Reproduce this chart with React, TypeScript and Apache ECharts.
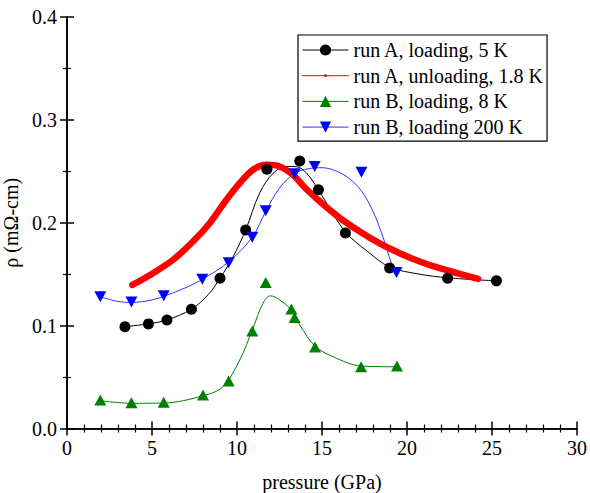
import React, { useEffect, useRef } from "react";
import * as echarts from "echarts";

// Tick labels / axis ranges
const xTicks = [0, 5, 10, 15, 20, 25, 30];
const yTicks = [0.0, 0.1, 0.2, 0.3, 0.4];

// Series names
const seriesNames = [
  "run A, loading, 5 K",
  "run A, unloading, 1.8 K",
  "run B, loading, 8 K",
  "run B, loading 200 K",
];

// run A, loading, 5 K (markers)
const runALoadP = [3.41, 4.79, 5.88, 7.32, 9.0, 10.51, 11.76, 13.69, 14.79, 16.38, 18.98, 22.39, 25.26];
const runALoadR = [0.099, 0.1017, 0.1055, 0.116, 0.146, 0.193, 0.252, 0.26, 0.232, 0.19, 0.156, 0.146, 0.1435];

// run A, loading fit curve
const runAFitP = [3.41, 4.79, 5.88, 7.32, 8.3, 9.0, 9.8, 10.51, 11.33, 12.12, 12.9, 13.5, 14.1, 14.79, 15.6, 16.43, 17.61, 18.98, 20.75, 22.39, 25.26];
const runAFitR = [0.099, 0.1017, 0.1055, 0.116, 0.13, 0.146, 0.168, 0.193, 0.2288, 0.248, 0.2547, 0.2545, 0.248, 0.232, 0.21, 0.19, 0.173, 0.157, 0.15, 0.1465, 0.1435];

// run A, unloading, 1.8 K (dense data)
const runAUnloadP = [3.85, 5.06, 6.24, 7.41, 8.39, 9.38, 10.16, 10.94, 11.73, 12.51, 13.29, 14.0, 14.88, 16.06, 17.22, 18.39, 19.57, 20.75, 21.92, 23.1, 24.18];
const runAUnloadR = [0.1396, 0.151, 0.164, 0.1817, 0.1996, 0.2223, 0.2385, 0.2515, 0.2563, 0.2547, 0.2466, 0.234, 0.2206, 0.2045, 0.1915, 0.18, 0.1704, 0.1623, 0.1558, 0.1503, 0.1454];

// run B, loading, 8 K (markers)
const runB8P = [1.96, 3.79, 5.69, 8.0, 9.51, 10.9, 11.69, 13.2, 13.39, 14.59, 17.3, 19.41];
const runB8R = [0.0277, 0.0251, 0.0255, 0.0326, 0.0462, 0.0948, 0.1418, 0.1162, 0.1078, 0.0793, 0.0601, 0.0608];

// run B, 8 K fit curve
const runB8FitP = [1.96, 3.79, 5.69, 8.0, 9.18, 10.16, 10.94, 11.53, 11.96, 12.51, 13.2, 13.69, 14.59, 15.65, 17.3, 19.41];
const runB8FitR = [0.027, 0.0245, 0.0248, 0.0318, 0.0407, 0.0666, 0.0975, 0.1218, 0.129, 0.125, 0.115, 0.1007, 0.08, 0.0698, 0.0607, 0.06];

// run B, loading 200 K (markers)
const runB200P = [1.96, 3.79, 5.69, 7.96, 9.51, 10.9, 11.69, 13.39, 14.57, 17.32, 19.38];
const runB200R = [0.128, 0.123, 0.129, 0.145, 0.161, 0.186, 0.2116, 0.2476, 0.2547, 0.249, 0.1516];

// run B, 200 K fit curve
const runB200FitP = [1.96, 3.0, 3.8, 5.0, 5.69, 7.0, 7.96, 9.51, 10.9, 11.69, 12.5, 13.39, 14.2, 15.0, 15.8, 16.6, 17.32, 18.0, 18.59, 19.08, 19.38];
const runB200FitR = [0.128, 0.1235, 0.1225, 0.125, 0.1285, 0.137, 0.145, 0.162, 0.186, 0.211, 0.2337, 0.248, 0.2525, 0.2535, 0.2505, 0.243, 0.231, 0.211, 0.186, 0.161, 0.1516];

const pairs = (xs: number[], ys: number[]) => xs.map((x, i) => [x, ys[i]]);

const FONT = "Liberation Serif";
const smallDot = "path://M0,0 M12,12 M4.4,6 A1.6,1.6 0 1,0 7.6,6 A1.6,1.6 0 1,0 4.4,6 Z";

export default function App() {
  const ref = useRef<HTMLDivElement>(null);
  useEffect(() => {
    if (!ref.current) return;
    const chart = echarts.init(ref.current, null, { renderer: "svg" });
    const axisCommon = {
      type: "value" as const,
      axisLine: { show: true, lineStyle: { color: "#000", width: 1.6 } },
      axisTick: { show: true, inside: true, length: 7, lineStyle: { color: "#000", width: 1.5 } },
      minorTick: { show: true, length: 4, lineStyle: { color: "#000", width: 1.2 } },
      splitLine: { show: false },
    };
    const option: any = {
      animation: false,
      backgroundColor: "#fff",
      textStyle: { fontFamily: FONT },
      grid: { left: 67, right: 13, top: 17, bottom: 64.5, containLabel: false, outerBoundsMode: "none" },
      xAxis: [
        {
          ...axisCommon,
          position: "bottom",
          min: xTicks[0],
          max: xTicks[xTicks.length - 1],
          interval: 5,
          minorTick: { ...axisCommon.minorTick, splitNumber: 5 },
          axisLabel: { fontFamily: FONT, fontSize: 20, color: "#000", margin: 9 },
          name: "pressure (GPa)",
          nameLocation: "middle",
          nameGap: 43,
          nameTextStyle: { fontFamily: FONT, fontSize: 20, color: "#000" },
        },
        {
          ...axisCommon,
          position: "top",
          min: xTicks[0],
          max: xTicks[xTicks.length - 1],
          interval: 5,
          minorTick: { ...axisCommon.minorTick, splitNumber: 5 },
          axisLabel: { show: false },
        },
      ],
      yAxis: [
        {
          ...axisCommon,
          position: "left",
          min: yTicks[0],
          max: yTicks[yTicks.length - 1],
          interval: 0.1,
          minorTick: { ...axisCommon.minorTick, splitNumber: 2 },
          axisLabel: {
            fontFamily: FONT,
            fontSize: 20,
            color: "#000",
            margin: 10,
            formatter: (v: number) => v.toFixed(1),
          },
          name: "ρ (mΩ-cm)",
          nameLocation: "middle",
          nameGap: 32,
          nameRotate: 90,
          nameTextStyle: { fontFamily: FONT, fontSize: 20, color: "#000" },
        },
        {
          ...axisCommon,
          position: "right",
          min: yTicks[0],
          max: yTicks[yTicks.length - 1],
          interval: 0.1,
          minorTick: { ...axisCommon.minorTick, splitNumber: 2 },
          axisLabel: { show: false },
        },
      ],
      legend: {
        orient: "vertical",
        left: 298,
        top: 35,
        padding: [5, 3, 4, 4],
        itemWidth: 46,
        itemHeight: 14,
        itemGap: 5.7,
        borderColor: "#000",
        borderWidth: 1.2,
        backgroundColor: "#fff",
        textStyle: { fontFamily: FONT, fontSize: 20, color: "#000" },
        data: [
          { name: seriesNames[0], lineStyle: { color: "#000", width: 1, opacity: 1 } },
          { name: seriesNames[1], lineStyle: { color: "#ff0000", width: 1, opacity: 1 } },
          { name: seriesNames[2], lineStyle: { color: "#008000", width: 1, opacity: 1 } },
          { name: seriesNames[3], lineStyle: { color: "#3333ff", width: 1, opacity: 1 } },
        ],
      },
      series: [
        {
          type: "line",
          name: "fitA",
          data: pairs(runAFitP, runAFitR),
          smooth: 0.35,
          symbol: "none",
          lineStyle: { color: "#000", width: 1 },
          z: 2,
        },
        {
          type: "line",
          name: seriesNames[1],
          data: pairs(runAUnloadP, runAUnloadR),
          smooth: 0.35,
          showSymbol: false,
          symbol: smallDot,
          itemStyle: { color: "#ff0000" },
          lineStyle: { color: "#ff0000", width: 6.5, cap: "round", join: "round" },
          z: 3,
        },
        {
          type: "line",
          name: "fitB8",
          data: pairs(runB8FitP, runB8FitR),
          smooth: 0.35,
          symbol: "none",
          lineStyle: { color: "#008000", width: 1 },
          z: 2,
        },
        {
          type: "line",
          name: "fitB200",
          data: pairs(runB200FitP, runB200FitR),
          smooth: 0.35,
          symbol: "none",
          lineStyle: { color: "#3333ff", width: 1 },
          z: 2,
        },
        {
          type: "line",
          name: seriesNames[0],
          data: pairs(runALoadP, runALoadR),
          symbol: "circle",
          symbolSize: 11,
          itemStyle: { color: "#000" },
          lineStyle: { opacity: 0 },
          z: 4,
        },
        {
          type: "line",
          name: seriesNames[2],
          data: pairs(runB8P, runB8R),
          symbol: "triangle",
          symbolSize: [12, 11],
          itemStyle: { color: "#008000" },
          lineStyle: { opacity: 0 },
          z: 4,
        },
        {
          type: "line",
          name: seriesNames[3],
          data: pairs(runB200P, runB200R),
          symbol: "triangle",
          symbolRotate: 180,
          symbolSize: [12, 11],
          itemStyle: { color: "#0000ff" },
          lineStyle: { opacity: 0 },
          z: 4,
        },
      ],
    };
    chart.setOption(option);
    return () => chart.dispose();
  }, []);
  return <div ref={ref} style={{ width: 590, height: 493, position: "absolute", left: 0, top: 0 }} />;
}
